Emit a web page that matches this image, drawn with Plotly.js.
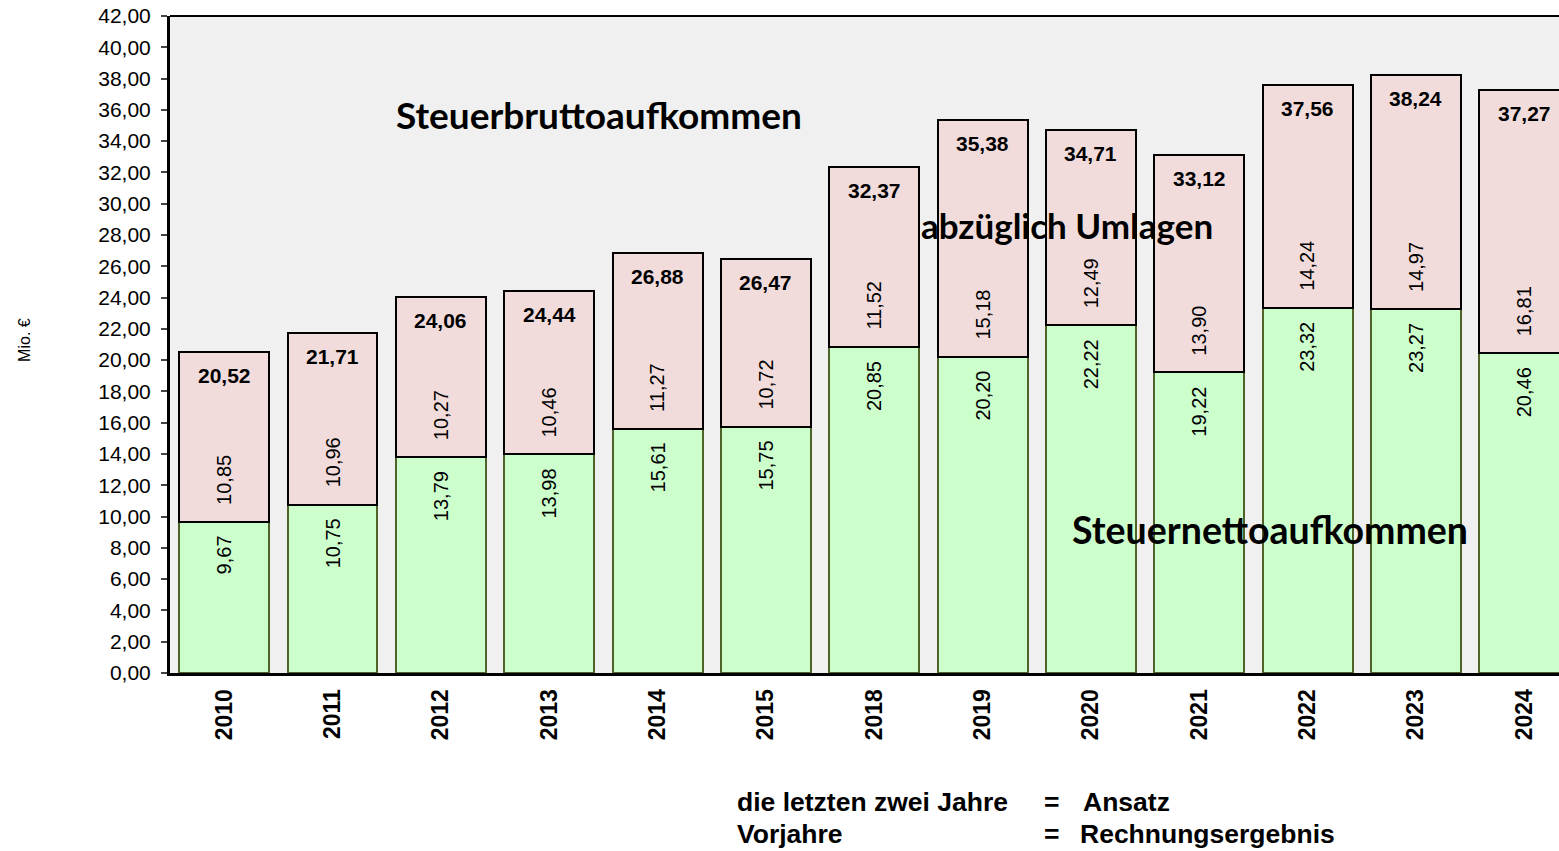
<!DOCTYPE html>
<html><head><meta charset="utf-8">
<script src="https://cdn.plot.ly/plotly-3.0.1.min.js"></script>
<style>html,body{margin:0;padding:0;background:#fff;}#chart{width:1559px;height:851px;}</style>
</head><body><div id="chart"></div>
<script>
const years = ['2010','2011','2012','2013','2014','2015','2018','2019','2020','2021','2022','2023','2024'];
const netto = [9.67,10.75,13.79,13.98,15.61,15.75,20.85,20.20,22.22,19.22,23.32,23.27,20.46];
const umlagen = [10.85,10.96,10.27,10.46,11.27,10.72,11.52,15.18,12.49,13.90,14.24,14.97,16.81];
const brutto = [20.52,21.71,24.06,24.44,26.88,26.47,32.37,35.38,34.71,33.12,37.56,38.24,37.27];
const yAxisTitle = 'Mio. €';
const labelBrutto = 'Steuerbruttoaufkommen';
const labelUmlagen = 'abzüglich Umlagen';
const labelNetto = 'Steuernettoaufkommen';
const noteLeft = ['die letzten zwei Jahre', 'Vorjahre'];
const noteRight = ['Ansatz', 'Rechnungsergebnis'];

const fmt = v => v.toFixed(2).replace('.', ',');
const F = 'Liberation Sans, Arial, sans-serif';
const BIG = 'Lato, Calibri, sans-serif';

const traces = [
  {type:'bar', x:years, y:netto, marker:{color:'#ccffcc', line:{color:'#4f6228', width:2}}, hoverinfo:'none'},
  {type:'bar', x:years, y:umlagen, marker:{color:'#f2dcdb', line:{color:'#000000', width:2}}, hoverinfo:'none'}
];

const ann = [];
years.forEach((yr, i) => {
  // category index i is the position of years[i] on the category axis
  ann.push({x:i, y:netto[i], xref:'x', yref:'y', text:fmt(netto[i]), textangle:-90, showarrow:false,
    yanchor:'top', xanchor:'center', yshift:-13, borderpad:0, font:{family:F, size:20, color:'#000'}});
  ann.push({x:i, y:netto[i], xref:'x', yref:'y', text:fmt(umlagen[i]), textangle:-90, showarrow:false,
    yanchor:'bottom', xanchor:'center', yshift:16, borderpad:0, font:{family:F, size:20, color:'#000'}});
  ann.push({x:i, y:brutto[i], xref:'x', yref:'y', text:fmt(brutto[i]), showarrow:false,
    yanchor:'top', xanchor:'center', yshift:-11, borderpad:0, font:{family:F, size:21, color:'#000', weight:'bold'}});
});

ann.push({xref:'paper', yref:'paper', x:0.3089, y:0.8508, text:labelBrutto, showarrow:false, xanchor:'center', yanchor:'middle', font:{family:BIG, size:37, weight:'bold', color:'#000'}});
ann.push({xref:'paper', yref:'paper', x:0.6458, y:0.6819, text:labelUmlagen, showarrow:false, xanchor:'center', yanchor:'middle', font:{family:BIG, size:35, weight:'bold', color:'#000'}});
ann.push({xref:'paper', yref:'paper', x:0.7919, y:0.2177, text:labelNetto, showarrow:false, xanchor:'center', yanchor:'middle', font:{family:BIG, size:37.5, weight:'bold', color:'#000'}});
ann.push({xref:'paper', yref:'paper', x:-0.1044, y:0.507, text:yAxisTitle, textangle:-90, showarrow:false, xanchor:'center', yanchor:'middle', font:{family:F, size:16, color:'#000'}});

const noteY = [-0.1963, -0.2451];
const noteFont = {family:F, size:26.5, weight:'bold', color:'#000'};
noteLeft.forEach((t, i) => {
  ann.push({xref:'paper', yref:'paper', x:0.4068, y:noteY[i], text:t, showarrow:false, xanchor:'left', yanchor:'middle', font:noteFont});
  ann.push({xref:'paper', yref:'paper', x:0.628, y:noteY[i], text:'=', showarrow:false, xanchor:'left', yanchor:'middle', font:noteFont});
  ann.push({xref:'paper', yref:'paper', x:(i === 0 ? 0.6559 : 0.6537), y:noteY[i], text:noteRight[i], showarrow:false, xanchor:'left', yanchor:'middle', font:noteFont});
});

const layout = {
  width:1559, height:851,
  margin:{l:170, r:0, t:16, b:178, pad:0},
  paper_bgcolor:'#ffffff', plot_bgcolor:'#f0f0f0',
  showlegend:false, barmode:'stack', bargap:0.17,
  separators:',.',
  font:{family:F, color:'#000'},
  xaxis:{type:'category', range:[-0.5, 12.32], tickangle:-90, ticks:'', showline:true, linecolor:'#000', linewidth:3,
    layer:'below traces', tickfont:{family:F, size:23, weight:'bold', color:'#000'}, ticklabelstandoff:4, showgrid:false, fixedrange:true},
  yaxis:{range:[0,42], dtick:2, tickformat:'.2f', ticks:'outside', ticklen:6, tickwidth:2, tickcolor:'#444',
    showline:true, linecolor:'#000', linewidth:3, showgrid:false, zeroline:false,
    tickfont:{family:F, size:21, color:'#000'}, ticklabelstandoff:6, fixedrange:true},
  shapes:[{type:'line', xref:'paper', yref:'paper', x0:0, x1:1, y0:1, y1:1, line:{color:'#000', width:2}}],
  annotations:ann
};

Plotly.newPlot('chart', traces, layout, {displayModeBar:false, staticPlot:true});
</script>
</body></html>
